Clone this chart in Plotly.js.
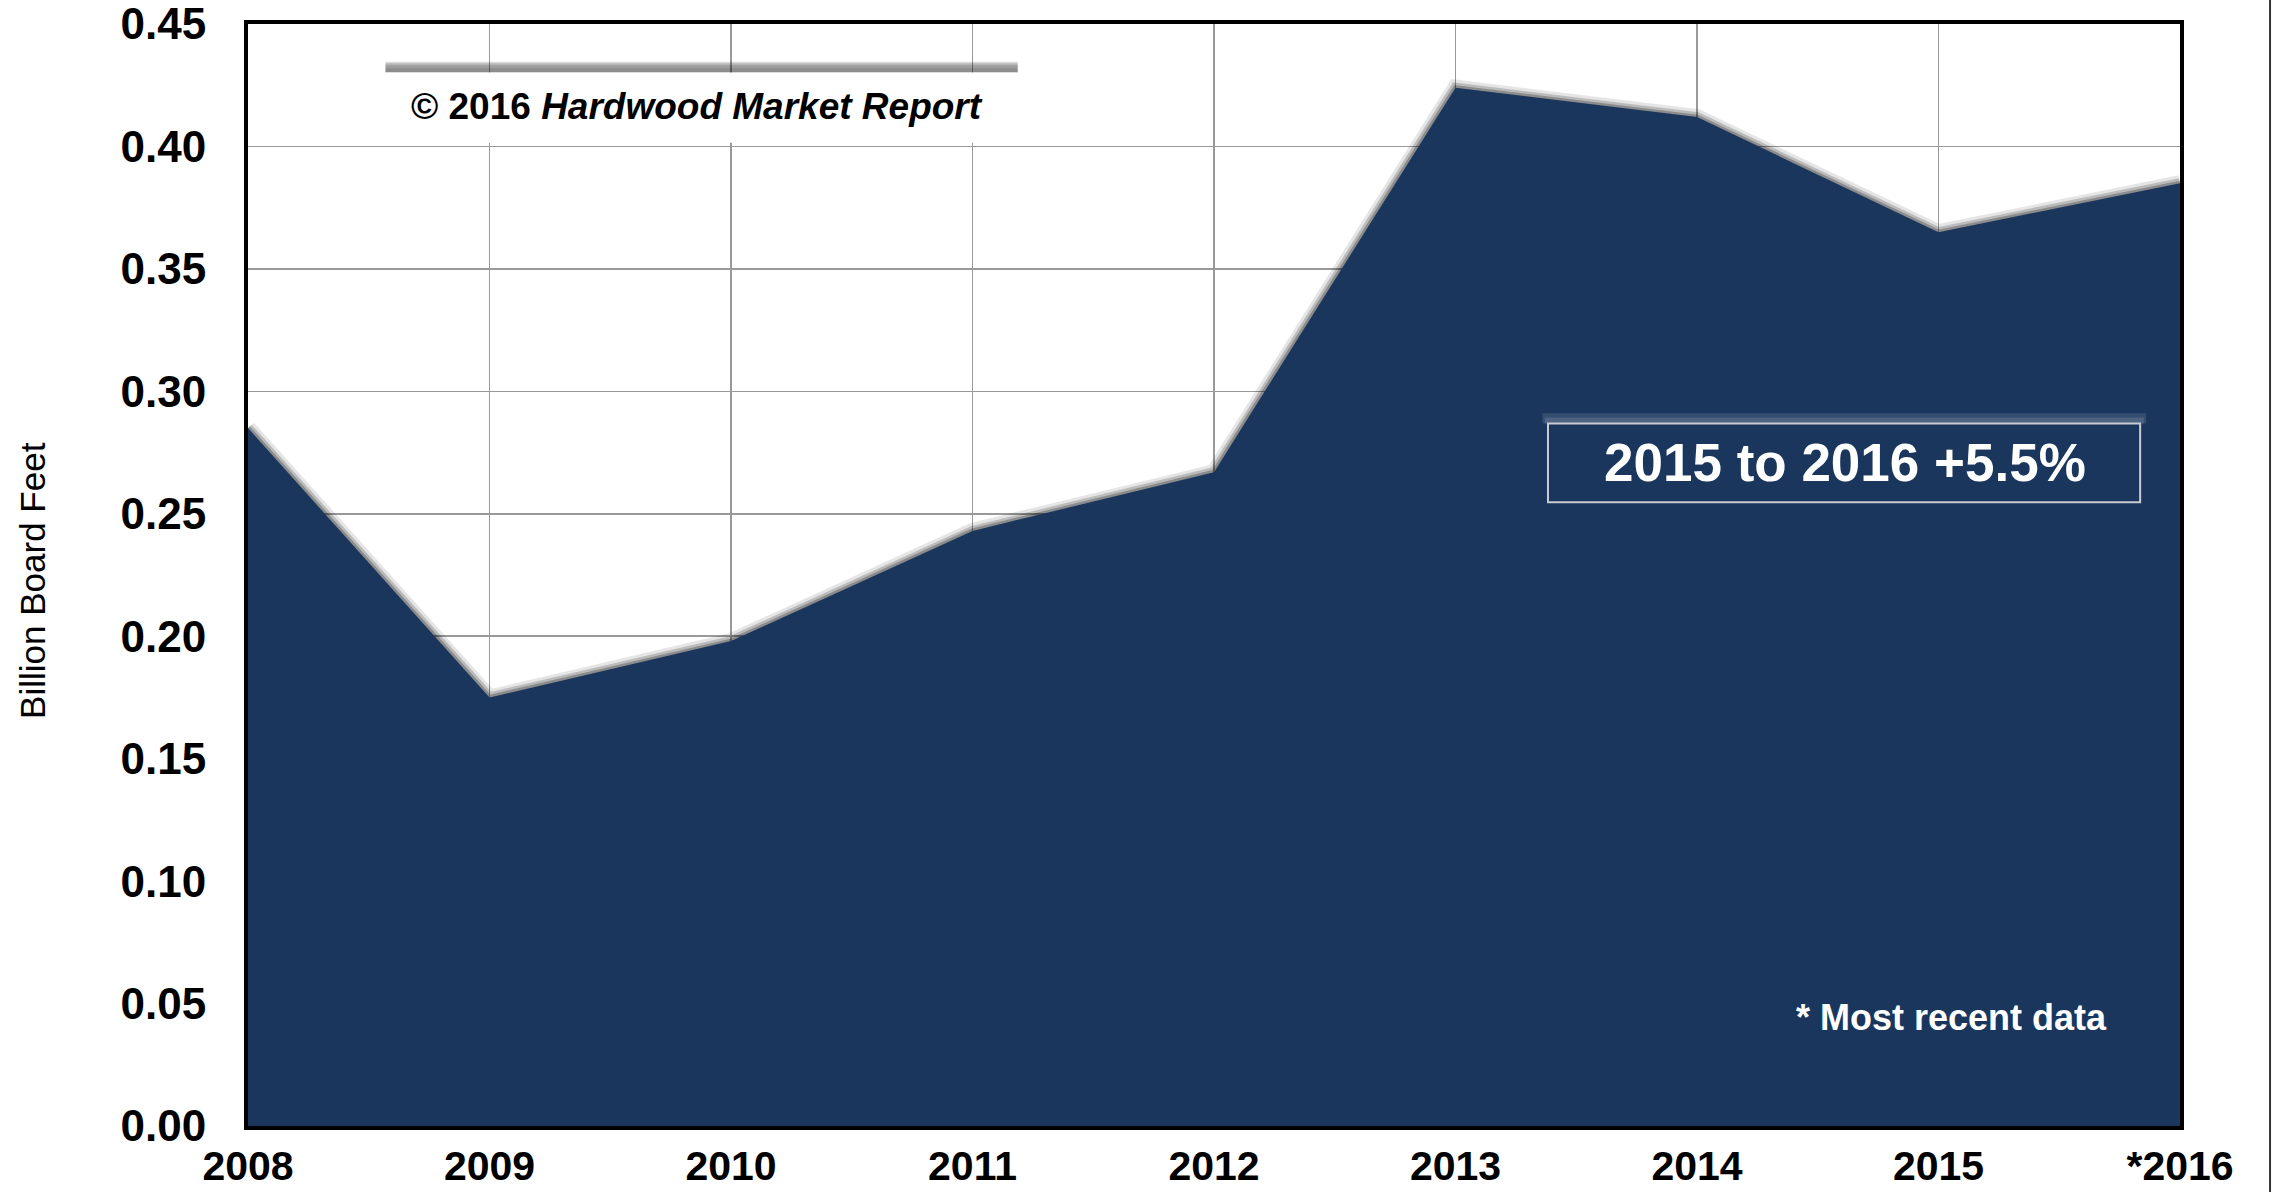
<!DOCTYPE html>
<html>
<head>
<meta charset="utf-8">
<script src="https://cdn.plot.ly/plotly-3.0.1.min.js"></script>
<style>
  html, body { margin: 0; padding: 0; background: #ffffff; }
  #chart { width: 2272px; height: 1192px; }
</style>
</head>
<body>
<div id="chart"></div>
<script>
// ---- data ----
const yearLabels = ["2008", "2009", "2010", "2011", "2012", "2013", "2014", "2015", "*2016"];
const volumes = [0.285, 0.175, 0.198, 0.243, 0.267, 0.424, 0.412, 0.365, 0.385];
const yTickVals = [0, 0.05, 0.10, 0.15, 0.20, 0.25, 0.30, 0.35, 0.40, 0.45];
const yTickText = ["0.00", "0.05", "0.10", "0.15", "0.20", "0.25", "0.30", "0.35", "0.40", "0.45"];
const yAxisTitle = "Billion Board Feet";
const copyrightText = "<b>© 2016 <i>Hardwood Market Report</i></b>";
const changeText = "<b>2015 to 2016 +5.5%</b>";
const noteText = "<b>* Most recent data</b>";

const xIdx = yearLabels.map((_, i) => i);
const NAVY = "#1a365d";
const FONT = "Liberation Sans, Arial, Helvetica, sans-serif";

const traces = [
  { // soft shadow along the top edge
    x: xIdx, y: volumes, type: "scatter", mode: "lines",
    line: { color: "rgba(0,0,0,0.10)", width: 16 }, hoverinfo: "skip", showlegend: false
  },
  {
    x: xIdx, y: volumes, type: "scatter", mode: "lines",
    line: { color: "rgba(0,0,0,0.18)", width: 10 }, hoverinfo: "skip", showlegend: false
  },
  {
    x: xIdx, y: volumes, type: "scatter", mode: "lines",
    line: { color: "rgba(0,0,0,0.25)", width: 5 }, hoverinfo: "skip", showlegend: false
  },
  { // the area itself
    x: xIdx, y: volumes, type: "scatter", mode: "none",
    fill: "tozeroy", fillcolor: NAVY, hoverinfo: "skip", showlegend: false
  }
];

const shadowBand = (y0, a) => ({
  type: "rect", xref: "x", yref: "y", x0: 0.5692, x1: 3.1872, y0: 0.43015, y1: y0,
  fillcolor: "rgba(0,0,0," + a + ")", line: { width: 0 }, layer: "above"
});

const shapes = [
  // gradient shadow above the copyright box
  shadowBand(0.43463, 0.14), shadowBand(0.43402, 0.16), shadowBand(0.43320, 0.14),
  shadowBand(0.43198, 0.10),
  // copyright box body
  { type: "rect", xref: "x", yref: "y", x0: 0.5692, x1: 3.1872, y0: 0.40155, y1: 0.43015,
    fillcolor: "#ffffff", line: { width: 0 }, layer: "above" },
  // glow above the change box
  { type: "rect", xref: "x", yref: "y", x0: 5.36, x1: 7.86, y0: 0.2869, y1: 0.2910,
    fillcolor: "rgba(255,255,255,0.12)", line: { width: 0 }, layer: "above" },
  { type: "rect", xref: "x", yref: "y", x0: 5.37, x1: 7.85, y0: 0.2869, y1: 0.2893,
    fillcolor: "rgba(255,255,255,0.12)", line: { width: 0 }, layer: "above" },
  // change box outline
  { type: "rect", xref: "x", yref: "y", x0: 5.383, x1: 7.835, y0: 0.2547, y1: 0.2869,
    fillcolor: NAVY, line: { color: "#c9ccd2", width: 2 }, layer: "above" },
  // thin frame line at the far right edge of the picture
  { type: "line", xref: "paper", yref: "paper", x0: 1.0466, x1: 1.0466, y0: -0.07, y1: 1.03,
    line: { color: "#333333", width: 2 }, layer: "above" }
];

const annotations = [
  { text: copyrightText, xref: "x", yref: "y", x: 1.86, y: 0.4163,
    showarrow: false, xanchor: "center", yanchor: "middle",
    font: { family: FONT, size: 37, color: "#000000" } },
  { text: changeText, xref: "x", yref: "y", x: 6.611, y: 0.2708,
    showarrow: false, xanchor: "center", yanchor: "middle",
    font: { family: FONT, size: 53, color: "#ffffff" } },
  { text: noteText, xref: "x", yref: "y", x: 7.053, y: 0.0445,
    showarrow: false, xanchor: "center", yanchor: "middle",
    font: { family: FONT, size: 36, color: "#ffffff" } },
  { text: yAxisTitle, xref: "paper", yref: "paper", x: -0.1116, y: 0.495,
    textangle: -90, showarrow: false, xanchor: "center", yanchor: "middle",
    font: { family: FONT, size: 35, color: "#000000" } }
];

const layout = {
  width: 2272, height: 1192,
  margin: { l: 248, r: 92, t: 24, b: 66, pad: 0 },
  paper_bgcolor: "#ffffff", plot_bgcolor: "#ffffff",
  showlegend: false,
  xaxis: {
    type: "linear", range: [0, 8],
    tickvals: xIdx, ticktext: yearLabels,
    showgrid: true, gridcolor: "#999999", gridwidth: 1.5,
    zeroline: false,
    showline: true, mirror: true, linecolor: "#000000", linewidth: 4,
    ticks: "", ticklabelstandoff: 1, ticklabeloverflow: "allow",
    tickfont: { family: FONT, size: 41, color: "#000000", weight: "bold" },
    fixedrange: true
  },
  yaxis: {
    range: [0, 0.45],
    tickvals: yTickVals, ticktext: yTickText,
    showgrid: true, gridcolor: "#999999", gridwidth: 1.5,
    zeroline: false,
    showline: true, mirror: true, linecolor: "#000000", linewidth: 4,
    ticks: "", ticklabelstandoff: 29, ticklabeloverflow: "allow",
    tickfont: { family: FONT, size: 44, color: "#000000", weight: "bold" },
    fixedrange: true
  },
  shapes: shapes,
  annotations: annotations
};

Plotly.newPlot("chart", traces, layout, { staticPlot: true, displayModeBar: false });
</script>
</body>
</html>
